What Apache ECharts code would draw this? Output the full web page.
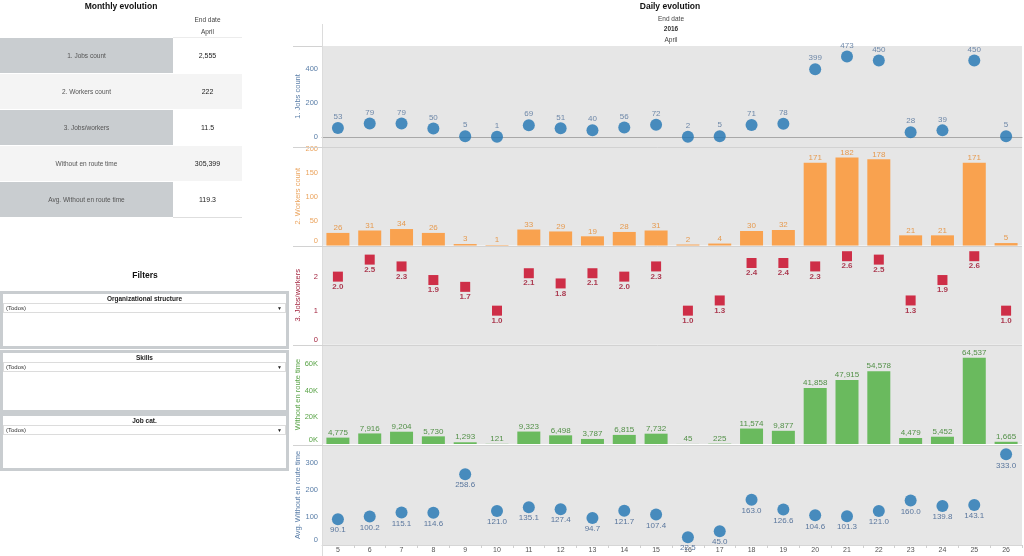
<!DOCTYPE html>
<html>
<head>
<meta charset="utf-8">
<script src="https://cdn.jsdelivr.net/npm/echarts@6/dist/echarts.min.js"></script>
<style>
html,body{margin:0;padding:0;width:1024px;height:556px;overflow:hidden;background:#fff;font-family:'Liberation Sans',Arial,sans-serif;}
#chart{position:absolute;left:0;top:0;width:1024px;height:556px;}
#left{position:absolute;left:0;top:0;width:300px;height:556px;}
.ttl{position:absolute;text-align:center;font-weight:bold;font-size:8.5px;color:#111;}
.hdr{position:absolute;text-align:center;font-size:6.5px;color:#444;}
.cellL{position:absolute;left:0;width:173px;height:35px;line-height:35px;text-align:center;font-size:6.5px;color:#555;}
.cellV{position:absolute;left:173px;width:69px;height:35px;line-height:35px;text-align:center;font-size:7px;color:#222;}
.box{position:absolute;left:0;width:283px;border:3px solid #c9cdd0;background:#fff;}
.boxT{position:absolute;left:0;right:0;top:0;height:9px;line-height:9px;text-align:center;font-weight:bold;font-size:6.5px;color:#222;}
.dd{position:absolute;left:0;right:0;top:9px;height:10px;border:1px solid #dcdcdc;box-sizing:border-box;font-size:6px;line-height:8px;color:#333;padding-left:2px;background:#fff;}
.dd span{position:absolute;right:3px;top:0;font-size:5px;color:#222;}
</style>
</head>
<body>
<div id="chart"></div>
<div id="left"></div>
<script>
// ---------- data ----------
const days = ['5','6','7','8','9','10','11','12','13','14','15','16','17','18','19','20','21','22','23','24','25','26'];
const jobsCount = [53,79,79,50,5,1,69,51,40,56,72,2,5,71,78,399,473,450,28,39,450,5];
const workersCount = [26,31,34,26,3,1,33,29,19,28,31,2,4,30,32,171,182,178,21,21,171,5];
const jobsPerWorker = [2.0,2.5,2.3,1.9,1.7,1.0,2.1,1.8,2.1,2.0,2.3,1.0,1.3,2.4,2.4,2.3,2.6,2.5,1.3,1.9,2.6,1.0];
const withoutEnRoute = [4775,7916,9204,5730,1293,121,9323,6498,3787,6815,7732,45,225,11574,9877,41858,47915,54578,4479,5452,64537,1665];
const avgWithoutEnRoute = [90.1,100.2,115.1,114.6,258.6,121.0,135.1,127.4,94.7,121.7,107.4,22.5,45.0,163.0,126.6,104.6,101.3,121.0,160.0,139.8,143.1,333.0];

const measureNames = ['1. Jobs count','2. Workers count','3. Jobs/workers','Without en route time','Avg. Without en route time'];
const monthlyValues = ['2,555','222','11.5','305,399','119.3'];
const filterNames = ['Organizational structure','Skills','Job cat.'];
const filterValue = '(Todos)';

const jobsTicks = [0,200,400];
const workersTicks = [0,50,100,150,200];
const ratioTicks = [0,1,2];
const withoutTicks = [0,20000,40000,60000];
const avgTicks = [0,100,200,300];

// ---------- left panel (HTML) ----------
const left = document.getElementById('left');
let html = '';
html += '<div class="ttl" style="left:0;width:242px;top:1px;">Monthly evolution</div>';
html += '<div class="hdr" style="left:173px;width:69px;top:16px;">End date</div>';
html += '<div class="hdr" style="left:173px;width:69px;top:28px;">April</div>';
measureNames.forEach((n,i)=>{
  const top = 38 + i*36;
  const odd = i%2===0;
  html += '<div class="cellL" style="top:'+top+'px;background:'+(odd?'#c9cdd0':'#f4f4f4')+';">'+n+'</div>';
  html += '<div class="cellV" style="top:'+top+'px;background:'+(odd?'#ffffff':'#f4f4f4')+';">'+monthlyValues[i]+'</div>';
});
html += '<div style="position:absolute;left:173px;width:69px;top:217px;height:1px;background:#dedede;"></div>';
html += '<div style="position:absolute;left:173px;width:69px;top:37px;height:1px;background:#ececec;"></div>';
html += '<div class="ttl" style="left:0;width:290px;top:270px;">Filters</div>';
const boxTops = [291,350,413];
const boxH = [52,57,52];
filterNames.forEach((n,i)=>{
  html += '<div class="box" style="top:'+boxTops[i]+'px;height:'+boxH[i]+'px;">'+
    '<div class="boxT">'+n+'</div>'+
    '<div class="dd">'+filterValue+'<span>&#9660;</span></div></div>';
});
left.innerHTML = html;

// ---------- right panel (ECharts) ----------
const chart = echarts.init(document.getElementById('chart'), null, {renderer:'canvas'});
const FONT = "'Liberation Sans', Arial, sans-serif";
const gridDefs = [
  {top:46, height:101},
  {top:147, height:98.5},
  {top:246, height:98.7},
  {top:345, height:99},
  {top:445, height:100}
];
const grids = gridDefs.map(g => Object.assign({left:322, right:2, show:true, backgroundColor:'#e6e6e6', borderWidth:0}, g));

const xAxes = gridDefs.map((g,i)=>({
  type:'category', gridIndex:i, data:days, boundaryGap:true,
  axisLine: i===0 ? {show:true, onZero:true, lineStyle:{color:'#a8a8a8', width:1}}
          : (i===4 ? {show:true, onZero:false, lineStyle:{color:'#d6d6d6'}} : {show:false}),
  axisTick: i===4 ? {show:true, length:3, lineStyle:{color:'#d0d0d0'}} : {show:false},
  axisLabel: i===4 ? {show:true, fontSize:7, color:'#555', margin:2, fontFamily:FONT} : {show:false},
  splitLine:{show:false}
}));

function zeroRich(fmt, pad){
  return {
    formatter: v => v===0 ? '{z|'+fmt(v)+'}' : fmt(v),
    rich: {z:{padding:[0,0,pad,0], fontSize:7.5, fontFamily:FONT}}
  };
}
const yDefs = [
  {name:measureNames[0], min:-58.8, max:535.3, ticks:jobsTicks, color:'#5a7ea8', fmt:v=>String(v), pad:0},
  {name:measureNames[1], min:0, max:203.5, ticks:workersTicks, color:'#eba45e', fmt:v=>String(v), pad:9},
  {name:measureNames[2], min:0, max:2.9, ticks:ratioTicks, color:'#a32640', fmt:v=>String(v), pad:10},
  {name:measureNames[3], min:0, max:74160, ticks:withoutTicks, color:'#5aa448', fmt:v=>(v/1000)+'K', pad:9},
  {name:measureNames[4], min:-6.4, max:368, ticks:avgTicks, color:'#5a7ea8', fmt:v=>String(v), pad:6}
];
const yAxes = yDefs.map((d,i)=>{
  const lab = Object.assign({customValues:d.ticks, color:d.color, fontSize:7.5, margin:4, fontFamily:FONT}, zeroRich(d.fmt, d.pad));
  lab.rich.z.color = d.color;
  return {
    type:'value', gridIndex:i, min:d.min, max:d.max,
    name:d.name, nameLocation:'middle', nameGap:20, nameRotate:90, nameMoveOverlap:false,
    nameTextStyle:{color:d.color, fontSize:7.5, fontFamily:FONT},
    axisLine:{show:false}, axisTick:{show:false}, splitLine:{show:false},
    axisLabel:lab
  };
});

const fmtThousands = v => v.toLocaleString('en-US');
const series = [
  {type:'scatter', xAxisIndex:0, yAxisIndex:0, data:jobsCount, symbol:'circle', symbolSize:12,
   itemStyle:{color:'#1f74b3'},
   label:{show:true, position:'top', distance:1, color:'#4f6f98', fontSize:8, fontFamily:FONT}},
  {type:'bar', xAxisIndex:1, yAxisIndex:1, data:workersCount, barWidth:23,
   itemStyle:{color:'#f9a24f'},
   label:{show:true, position:'top', distance:1, color:'#e69a4f', fontSize:8, fontFamily:FONT}},
  {type:'scatter', xAxisIndex:2, yAxisIndex:2, data:jobsPerWorker, symbol:'rect', symbolSize:10,
   itemStyle:{color:'#c8001f'},
   label:{show:true, position:'bottom', distance:1, color:'#9c0f2a', fontWeight:'bold', fontSize:8, fontFamily:FONT,
          formatter:p=>p.value.toFixed(1)}},
  {type:'bar', xAxisIndex:3, yAxisIndex:3, data:withoutEnRoute, barWidth:23,
   itemStyle:{color:'#6aba5e'},
   label:{show:true, position:'top', distance:1, color:'#529047', fontSize:8, fontFamily:FONT,
          formatter:p=>fmtThousands(p.value)}},
  {type:'scatter', xAxisIndex:4, yAxisIndex:4, data:avgWithoutEnRoute, symbol:'circle', symbolSize:12,
   itemStyle:{color:'#1f74b3'},
   label:{show:true, position:'bottom', distance:1, color:'#34598a', fontSize:8, fontFamily:FONT,
          formatter:p=>p.value.toFixed(1)}}
];

const lineStyle = {stroke:'#d2d2d2', lineWidth:1};
const graphic = [
  {type:'text', x:670, y:2, style:{text:'Daily evolution', font:"bold 8.5px "+FONT, fill:'#111', textAlign:'center'}},
  {type:'text', x:671, y:16, style:{text:'End date', font:"6.5px "+FONT, fill:'#444', textAlign:'center'}},
  {type:'text', x:671, y:26, style:{text:'2016', font:"bold 6.5px "+FONT, fill:'#333', textAlign:'center'}},
  {type:'text', x:671, y:37, style:{text:'April', font:"6.5px "+FONT, fill:'#444', textAlign:'center'}},
  {type:'line', shape:{x1:322.5, y1:24, x2:322.5, y2:556}, style:{stroke:'#dcdcdc', lineWidth:1}, z:10},
  {type:'line', shape:{x1:293, y1:46.5, x2:322, y2:46.5}, style:lineStyle, z:10},
  {type:'line', shape:{x1:293, y1:147.5, x2:1022, y2:147.5}, style:lineStyle, z:10},
  {type:'line', shape:{x1:293, y1:246.5, x2:1022, y2:246.5}, style:lineStyle, z:10},
  {type:'line', shape:{x1:293, y1:345.5, x2:1022, y2:345.5}, style:lineStyle, z:10},
  {type:'line', shape:{x1:293, y1:445.5, x2:1022, y2:445.5}, style:lineStyle, z:10}
];

chart.setOption({
  animation:false,
  grid:grids,
  xAxis:xAxes,
  yAxis:yAxes,
  series:series,
  graphic:graphic
});
</script>
</body>
</html>
